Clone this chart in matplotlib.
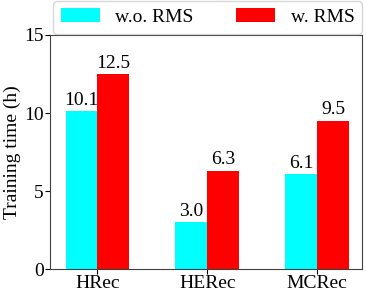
import numpy as np
import matplotlib.pyplot as plt

plt.rcParams['font.family'] = ['Liberation Serif', 'DejaVu Serif']

models = ["HRec", "HERec", "MCRec"]
wo_rms = [10.1, 3.0, 6.1]
w_rms = [12.5, 6.3, 9.5]

x = np.arange(len(models))
width = 0.29

fig = plt.figure(figsize=(3.66, 2.91), dpi=100)
ax = fig.add_axes([0.137, 0.075, 0.853, 0.805])

b1 = ax.bar(x - width / 2, wo_rms, width, color="#00ffff", label="w.o. RMS")
b2 = ax.bar(x + width / 2, w_rms, width, color="#ff0000", label="w. RMS")

for bars, vals in [(b1, wo_rms), (b2, w_rms)]:
    for b, v in zip(bars, vals):
        ax.text(b.get_x() + b.get_width() / 2, v + 0.15, f"{v:.1f}",
                ha="center", va="bottom", fontsize=14)

ax.set_xlim(-0.43, 2.41)
ax.set_ylim(0, 15)
ax.set_yticks([0, 5, 10, 15])
ax.set_xticks(x)
ax.set_xticklabels(models)
ax.tick_params(labelsize=14, pad=1)
ax.set_ylabel("Training time (h)", fontsize=14, labelpad=2)
for s in ax.spines.values():
    s.set_color("#404040")

ax.legend(loc="lower center", bbox_to_anchor=(0.505, 1.006), ncol=2,
          fontsize=14, frameon=True, borderaxespad=0, columnspacing=2.2,
          handlelength=2.0, handleheight=0.75, handletextpad=0.8,
          borderpad=0.38)

fig.savefig("out.png", dpi=100)
